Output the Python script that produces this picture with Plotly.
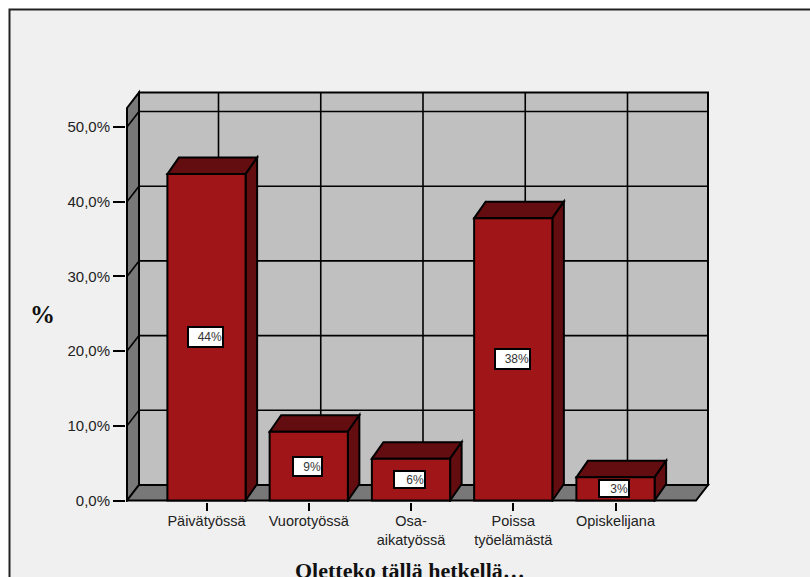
import plotly.graph_objects as go

categories = ["Päivätyössä", "Vuorotyössä", "Osa-<br>aikatyössä", "Poissa<br>työelämästä", "Opiskelijana"]
values = [43.7, 9.2, 5.6, 37.8, 3.1]
labels = ["44%", "9%", "6%", "38%", "3%"]
ytick_vals = [0, 10, 20, 30, 40, 50]
ytick_text = ["0,0%", "10,0%", "20,0%", "30,0%", "40,0%", "50,0%"]
label_widths = [33, 27, 29, 33, 28]
label_heights = [18, 17, 15, 18, 15]

W, H = 810, 577
PX_X, PX_Y = 102.25, 7.47        # pixels per category / per percent
X0_PX, Y0_PX = 206.5, 500.5      # pixel position of first category / of 0 %
DX, DY = 12 / PX_X, 15.5 / PX_Y  # 3D depth of the walls in axis units
BDX, BDY = 11.5 / PX_X, 16.5 / PX_Y  # 3D depth of the bars in axis units
BAR_W = 0.765

x_lo = (126 - X0_PX) / PX_X
x_hi = (711 - X0_PX) / PX_X
y_lo = (Y0_PX - 502) / PX_Y
y_hi = (Y0_PX - 88) / PX_Y
front_l = (127 - X0_PX) / PX_X
front_r = (696 - X0_PX) / PX_X
front_t = (Y0_PX - 108) / PX_Y
INK = dict(color="black", width=2)
THIN = dict(color="black", width=1.6)
WALL, SIDE, BAR, DARK = "#c0c0c0", "#787878", "#a01517", "#640d10"


def poly(pts, fill):
    d = "M " + " L ".join(f"{x:.4f} {y:.4f}" for x, y in pts) + " Z"
    return dict(type="path", path=d, xref="x", yref="y", fillcolor=fill, line=INK, layer="below")


def seg(x0, y0, x1, y1):
    return dict(type="line", x0=x0, y0=y0, x1=x1, y1=y1, xref="x", yref="y", line=THIN, layer="below")


shapes = [dict(type="rect", xref="paper", yref="paper", x0=9.5 / W, x1=1.02, y0=-0.02, y1=1 - 9.5 / H,
               fillcolor="#f0f0f0", line=dict(color="#222222", width=2), layer="below")]
shapes.append(poly([(front_l + DX, DY), (front_l + DX, front_t + DY), (front_r + DX, front_t + DY), (front_r + DX, DY)], WALL))
shapes.append(poly([(front_l, 0), (front_l, front_t), (front_l + DX, front_t + DY), (front_l + DX, DY)], SIDE))
shapes.append(poly([(front_l, 0), (front_l + DX, DY), (front_r + DX, DY), (front_r, 0)], SIDE))
for v in ytick_vals[1:]:
    shapes.append(seg(front_l, v, front_l + DX, v + DY))
    shapes.append(seg(front_l + DX, v + DY, front_r + DX, v + DY))
for i in range(len(categories)):
    shapes.append(seg(i + DX, DY, i + DX, front_t + DY))
for i, v in enumerate(values):
    l, r = i - BAR_W / 2, i + BAR_W / 2
    shapes.append(poly([(l, v), (l + BDX, v + BDY), (r + BDX, v + BDY), (r, v)], DARK))
    shapes.append(poly([(r, 0), (r, v), (r + BDX, v + BDY), (r + BDX, BDY)], DARK))

fig = go.Figure(go.Bar(x=list(range(len(categories))), y=values, width=BAR_W,
                       marker=dict(color=BAR, line=dict(color="black", width=2)), hoverinfo="skip"))

annotations = []
for i, v in enumerate(values):
    annotations.append(dict(x=i - 0.01, y=v / 2, xref="x", yref="y", text=labels[i], showarrow=False,
                            width=label_widths[i], height=label_heights[i], align="right", bgcolor="white",
                            bordercolor="black", borderwidth=2, borderpad=0,
                            font=dict(family="Liberation Sans", size=12, color="#333333")))
annotations.append(dict(x=42.5 / W, y=1 - 315 / H, xref="paper", yref="paper", text="<b>%</b>", showarrow=False,
                        xanchor="center", yanchor="middle",
                        font=dict(family="Liberation Serif", size=25, color="#111111")))
annotations.append(dict(x=410 / W, y=1 - 570 / H, xref="paper", yref="paper", text="<b>Oletteko tällä hetkellä…</b>",
                        showarrow=False, xanchor="center", yanchor="middle",
                        font=dict(family="Liberation Serif", size=22, color="#111111")))

fig.update_layout(
    width=W, height=H, autosize=False, showlegend=False,
    margin=dict(l=0, r=0, t=0, b=0, pad=0),
    paper_bgcolor="white", plot_bgcolor="rgba(0,0,0,0)",
    shapes=shapes, annotations=annotations,
    xaxis=dict(domain=[126 / W, 711 / W], range=[x_lo, x_hi], tickmode="array",
               tickvals=list(range(len(categories))), ticktext=categories, ticks="outside", ticklen=8,
               tickwidth=2, tickcolor="black", showgrid=False, zeroline=False, showline=False,
               tickfont=dict(family="Liberation Sans", size=14.5, color="#222222"),
               ticklabelstandoff=-2, automargin=False, tickangle=0),
    yaxis=dict(domain=[(H - 502) / H, (H - 88) / H], range=[y_lo, y_hi], tickmode="array",
               tickvals=ytick_vals, ticktext=ytick_text, ticks="outside", ticklen=12,
               tickwidth=2, tickcolor="black", showgrid=False, zeroline=False, showline=False,
               tickfont=dict(family="Liberation Sans", size=15, color="#222222"),
               automargin=False),
)
fig.write_html("out.html", config=dict(displayModeBar=False),
               post_script="document.body.style.margin='0';document.documentElement.style.overflow='hidden';")
